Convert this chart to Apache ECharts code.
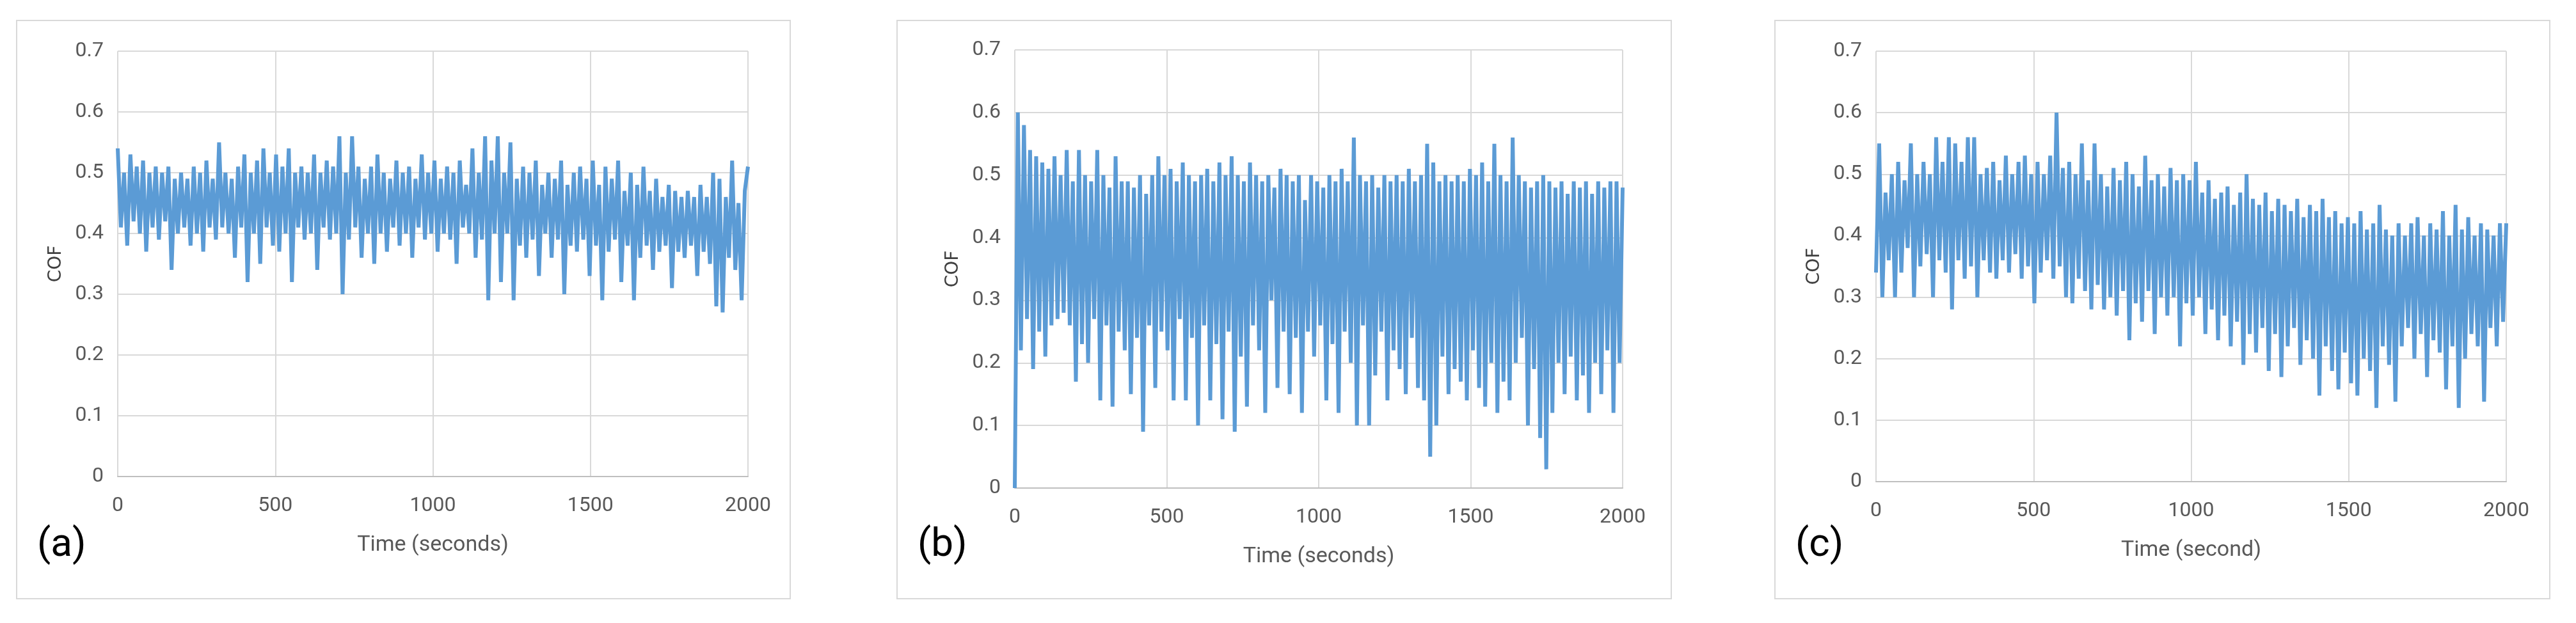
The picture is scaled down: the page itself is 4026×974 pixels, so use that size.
<!DOCTYPE html>
<html>
<head>
<meta charset="utf-8">
<script src="https://cdn.jsdelivr.net/npm/echarts@6/dist/echarts.min.js"></script>
<style>
  html, body { margin: 0; padding: 0; background: #fff; }
  #chart { width: 4026px; height: 974px; }
</style>
</head>
<body>
<div id="chart"></div>
<script>
// ==============================
// data (COF samples; alternating peaks/troughs)
// ==============================
const xTicks = [0, 500, 1000, 1500, 2000];
const yTicks = [0, 0.1, 0.2, 0.3, 0.4, 0.5, 0.6, 0.7];

const cofA = [
  0.54,0.41,0.50,0.38,0.53,0.42,0.51,0.40,0.52,0.37,
  0.50,0.41,0.51,0.39,0.50,0.42,0.51,0.34,0.49,0.40,
  0.50,0.41,0.49,0.38,0.51,0.40,0.50,0.37,0.52,0.41,
  0.49,0.39,0.55,0.41,0.50,0.40,0.49,0.36,0.51,0.41,
  0.53,0.32,0.50,0.40,0.52,0.35,0.54,0.41,0.50,0.38,
  0.53,0.37,0.51,0.40,0.54,0.32,0.50,0.41,0.51,0.39,
  0.50,0.40,0.53,0.34,0.50,0.41,0.52,0.39,0.51,0.40,
  0.56,0.30,0.50,0.39,0.56,0.41,0.51,0.36,0.49,0.40,
  0.51,0.35,0.53,0.40,0.50,0.37,0.49,0.41,0.52,0.38,
  0.50,0.40,0.51,0.36,0.49,0.41,0.53,0.39,0.50,0.40,
  0.52,0.37,0.49,0.40,0.51,0.39,0.50,0.35,0.52,0.41,
  0.48,0.40,0.54,0.36,0.50,0.39,0.56,0.29,0.52,0.40,
  0.56,0.32,0.50,0.40,0.55,0.29,0.49,0.38,0.51,0.36,
  0.50,0.39,0.52,0.33,0.48,0.40,0.50,0.36,0.49,0.39,
  0.52,0.30,0.48,0.38,0.50,0.37,0.51,0.39,0.49,0.33,
  0.52,0.38,0.48,0.29,0.51,0.37,0.49,0.39,0.52,0.32,
  0.47,0.38,0.50,0.29,0.48,0.36,0.51,0.38,0.47,0.34,
  0.49,0.37,0.46,0.38,0.48,0.31,0.47,0.37,0.46,0.36,
  0.47,0.38,0.46,0.33,0.48,0.37,0.46,0.35,0.50,0.28,
  0.49,0.27,0.46,0.36,0.52,0.34,0.45,0.29,0.47,0.51
];

const cofB = [
  0.00,0.60,0.22,0.58,0.27,0.54,0.19,0.53,0.25,0.52,
  0.21,0.51,0.26,0.53,0.27,0.50,0.28,0.54,0.26,0.49,
  0.17,0.54,0.23,0.50,0.20,0.49,0.27,0.54,0.14,0.50,
  0.26,0.48,0.13,0.53,0.25,0.49,0.22,0.49,0.15,0.48,
  0.24,0.50,0.09,0.47,0.26,0.50,0.16,0.53,0.25,0.50,
  0.22,0.51,0.14,0.49,0.27,0.52,0.14,0.50,0.24,0.49,
  0.10,0.50,0.26,0.51,0.14,0.49,0.23,0.52,0.11,0.50,
  0.25,0.53,0.09,0.50,0.21,0.49,0.13,0.52,0.26,0.50,
  0.22,0.49,0.12,0.50,0.30,0.48,0.16,0.51,0.25,0.50,
  0.15,0.49,0.24,0.50,0.12,0.46,0.25,0.50,0.21,0.49,
  0.26,0.48,0.14,0.50,0.23,0.49,0.12,0.51,0.25,0.49,
  0.20,0.56,0.10,0.50,0.26,0.49,0.10,0.50,0.18,0.48,
  0.25,0.50,0.14,0.49,0.22,0.50,0.19,0.49,0.15,0.51,
  0.24,0.49,0.16,0.50,0.14,0.55,0.05,0.52,0.10,0.49,
  0.21,0.50,0.15,0.49,0.19,0.50,0.17,0.49,0.14,0.51,
  0.22,0.50,0.16,0.52,0.13,0.49,0.20,0.55,0.12,0.50,
  0.17,0.49,0.14,0.56,0.20,0.50,0.24,0.49,0.10,0.48,
  0.19,0.49,0.08,0.50,0.03,0.49,0.12,0.48,0.20,0.49,
  0.15,0.47,0.21,0.49,0.14,0.48,0.18,0.49,0.12,0.47,
  0.20,0.49,0.15,0.48,0.22,0.49,0.12,0.49,0.20,0.48
];

const cofC = [
  0.34,0.55,0.30,0.47,0.36,0.50,0.30,0.52,0.34,0.49,
  0.38,0.55,0.30,0.50,0.35,0.52,0.37,0.50,0.30,0.56,
  0.36,0.52,0.34,0.56,0.28,0.55,0.36,0.52,0.33,0.56,
  0.35,0.56,0.30,0.50,0.36,0.51,0.34,0.52,0.33,0.49,
  0.36,0.53,0.34,0.50,0.37,0.52,0.33,0.53,0.35,0.50,
  0.29,0.52,0.34,0.50,0.36,0.53,0.33,0.60,0.35,0.51,
  0.30,0.52,0.29,0.50,0.33,0.55,0.31,0.49,0.28,0.55,
  0.32,0.50,0.28,0.48,0.30,0.51,0.27,0.49,0.31,0.52,
  0.23,0.50,0.29,0.48,0.26,0.53,0.31,0.49,0.24,0.50,
  0.30,0.48,0.27,0.51,0.30,0.49,0.22,0.50,0.29,0.49,
  0.27,0.52,0.30,0.47,0.24,0.49,0.28,0.46,0.23,0.47,
  0.27,0.48,0.22,0.45,0.26,0.47,0.19,0.50,0.24,0.46,
  0.21,0.45,0.25,0.47,0.18,0.44,0.24,0.46,0.17,0.45,
  0.22,0.44,0.25,0.46,0.19,0.43,0.23,0.45,0.20,0.44,
  0.14,0.46,0.22,0.43,0.18,0.44,0.15,0.42,0.21,0.43,
  0.16,0.42,0.14,0.44,0.20,0.41,0.18,0.42,0.12,0.45,
  0.22,0.41,0.19,0.40,0.13,0.42,0.22,0.40,0.25,0.42,
  0.20,0.43,0.24,0.40,0.17,0.42,0.23,0.41,0.21,0.44,
  0.15,0.40,0.22,0.45,0.12,0.41,0.20,0.43,0.24,0.40,
  0.22,0.42,0.13,0.41,0.25,0.40,0.22,0.42,0.26,0.42
];

const panelLabels = ['(a)', '(b)', '(c)'];
const xTitles = ['Time (seconds)', 'Time (seconds)', 'Time (second)'];

// ==============================
// layout
// ==============================
const FONT = "'Liberation Sans Narrow', 'Roboto', sans-serif";
const lineColor = '#5B9BD5';
const frames = [
  { x: 26, y: 32, w: 1209, h: 904 },
  { x: 1402, y: 32, w: 1210, h: 904 },
  { x: 2774, y: 32, w: 1211, h: 904 }
];
const grids = [
  { left: 184, width: 985, top: 80, height: 665 },
  { left: 1586, width: 950, top: 78, height: 685 },
  { left: 2932, width: 985, top: 80, height: 673 }
];
const datasets = [cofA, cofB, cofC];

function toPairs(arr) {
  const step = 2000 / (arr.length - 1);
  return arr.map((v, i) => [i * step, v]);
}

const option = {
  animation: false,
  backgroundColor: '#fff',
  grid: grids,
  xAxis: grids.map((g, i) => ({
    type: 'value', gridIndex: i,
    min: xTicks[0], max: xTicks[xTicks.length - 1], interval: 500,
    name: xTitles[i], nameLocation: 'middle', nameGap: 90,
    nameTextStyle: { fontFamily: FONT, fontSize: 34, color: '#595959' },
    axisLine: { lineStyle: { color: '#bfbfbf', width: 2 } },
    axisTick: { show: false },
    axisLabel: { fontFamily: FONT, fontSize: 32, color: '#595959', margin: 30,
      formatter: v => String(v) },
    splitLine: { show: true, lineStyle: { color: '#d9d9d9', width: 2 } }
  })),
  yAxis: grids.map((g, i) => ({
    type: 'value', gridIndex: i,
    min: 0, max: 0.7, interval: 0.1,
    name: 'COF', nameLocation: 'middle', nameGap: 82, nameRotate: 90,
    nameTextStyle: { fontFamily: 'DejaVu Sans', fontSize: 28, color: '#404040' },
    axisLine: { show: false },
    axisTick: { show: false },
    axisLabel: { fontFamily: FONT, fontSize: 32, color: '#595959', margin: 22,
      formatter: v => String(Math.round(v * 10) / 10) },
    splitLine: { show: true, lineStyle: { color: '#d9d9d9', width: 2 } }
  })),
  series: datasets.map((d, i) => ({
    type: 'line', xAxisIndex: i, yAxisIndex: i,
    data: toPairs(d),
    showSymbol: false,
    lineStyle: { color: lineColor, width: 6, join: 'bevel' },
    z: 3
  })),
  graphic: frames.map((f, i) => ({
    type: 'group',
    children: [
      { type: 'rect', shape: { x: f.x, y: f.y, width: f.w, height: f.h },
        style: { fill: 'none', stroke: '#d9d9d9', lineWidth: 2 }, z: -1 },
      { type: 'text', x: f.x + 32, y: f.y + 790,
        style: { text: panelLabels[i], font: '62px ' + FONT, fill: '#000' } }
    ]
  }))
};

const chart = echarts.init(document.getElementById('chart'));
chart.setOption(option);
</script>
</body>
</html>
